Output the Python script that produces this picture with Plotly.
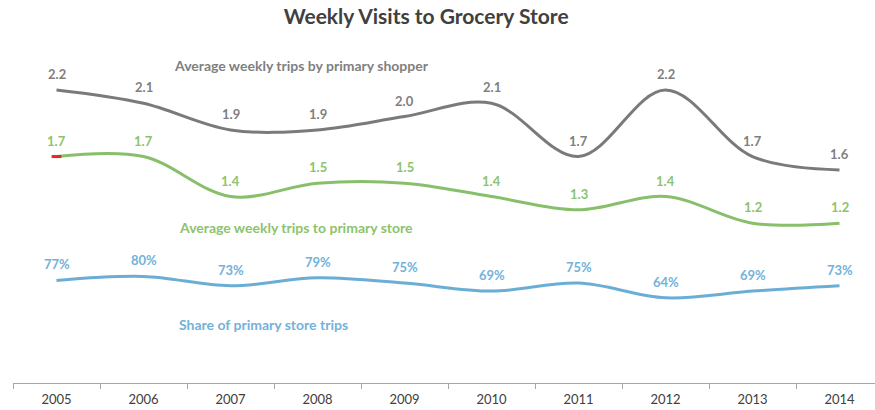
import plotly.graph_objects as go

years = ["2005", "2006", "2007", "2008", "2009", "2010", "2011", "2012", "2013", "2014"]
trips_by_shopper = [2.2, 2.1, 1.9, 1.9, 2.0, 2.1, 1.7, 2.2, 1.7, 1.6]
trips_to_primary = [1.7, 1.7, 1.4, 1.5, 1.5, 1.4, 1.3, 1.4, 1.2, 1.2]
primary_share = [0.77, 0.80, 0.73, 0.79, 0.75, 0.69, 0.75, 0.64, 0.69, 0.73]

GRAY_LINE = "#7a7a7a"
GRAY_TEXT = "#7f7f7f"
GREEN_LINE = "#88bf6b"
GREEN_TEXT = "#8cc36e"
BLUE_LINE = "#6aaed6"
BLUE_TEXT = "#72b2da"
FONT = "Lato"

fig = go.Figure()

series = [
    (trips_by_shopper, GRAY_LINE, GRAY_TEXT, lambda v: f"{v:.1f}"),
    (trips_to_primary, GREEN_LINE, GREEN_TEXT, lambda v: f"{v:.1f}"),
    (primary_share, BLUE_LINE, BLUE_TEXT, lambda v: f"{v:.0%}"),
]

for values, line_col, text_col, fmt in series:
    fig.add_trace(go.Scatter(
        x=years, y=values, mode="lines",
        line=dict(color=line_col, width=3, shape="spline", smoothing=1.0),
        hoverinfo="skip", showlegend=False,
    ))
    # value labels sit just above each point (category index on the x axis)
    for i, v in enumerate(values):
        fig.add_annotation(
            x=i, y=v, text=fmt(v), showarrow=False, yshift=16,
            font=dict(family=FONT, size=13, color=text_col, weight="bold"),
        )

# small red tick on the first point of the primary-store series
fig.add_trace(go.Scatter(
    x=years[:1], y=trips_to_primary[:1], mode="markers",
    marker=dict(symbol="line-ew", size=7, line=dict(color="#e8281e", width=3)),
    hoverinfo="skip", showlegend=False,
))

series_labels = [
    ("Average weekly trips by primary shopper", GRAY_TEXT, 0.185, 0.952),
    ("Average weekly trips to primary store", GREEN_TEXT, 0.19, 0.468),
    ("Share of primary store trips", BLUE_TEXT, 0.19, 0.177),
]
for text, col, px, py in series_labels:
    fig.add_annotation(
        xref="paper", yref="paper", x=px, y=py, text=text, showarrow=False,
        xanchor="left", yanchor="middle",
        font=dict(family=FONT, size=14, color=col, weight="bold"),
    )

fig.update_layout(
    width=875, height=410,
    margin=dict(l=13, r=0, t=50, b=27),
    paper_bgcolor="white", plot_bgcolor="white",
    title=dict(
        text="Weekly Visits to Grocery Store", x=0.487, xanchor="center",
        y=0.96, yanchor="middle",
        font=dict(family=FONT, size=21, color="#404040", weight="bold"),
    ),
    xaxis=dict(
        type="category", range=[-0.5, 9.408],
        showline=True, linecolor="#a6a6a6", linewidth=1,
        ticks="outside", tickson="boundaries", ticklen=5, tickcolor="#a6a6a6",
        ticklabelstandoff=4,
        showgrid=False, zeroline=False,
        tickfont=dict(family=FONT, size=13, color="#404040"),
    ),
    yaxis=dict(
        range=[0, 2.5], visible=False, showgrid=False, zeroline=False,
    ),
)

fig.write_html("out.html")
